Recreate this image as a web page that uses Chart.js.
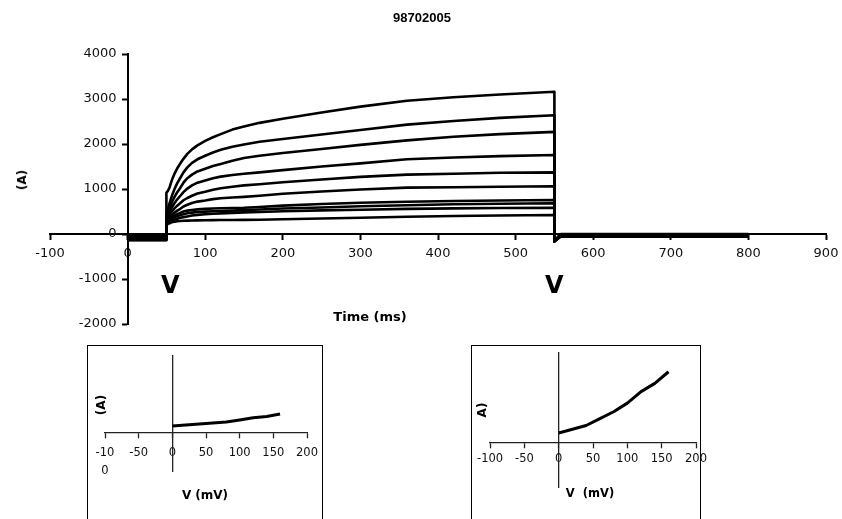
<!DOCTYPE html>
<html>
<head>
<meta charset="utf-8">
<script src="https://cdn.jsdelivr.net/npm/chart.js@4.4.1/dist/chart.umd.min.js"></script>
<style>
  html, body { margin: 0; padding: 0; background: #fff; }
  body { width: 842px; height: 519px; position: relative; overflow: hidden; font-family: "Liberation Sans", Arial, sans-serif; }
  canvas { position: absolute; }
  .box { position: absolute; border: 1px solid #000; border-bottom: none; background: #fff; }
  .txt { position: absolute; white-space: pre; color: #000; font-weight: bold; transform: translate(-50%, -50%); line-height: 1; }
  .rot { transform: translate(-50%, -50%) rotate(-90deg); }
</style>
</head>
<body>
<div class="box" style="left:87px; top:345px; width:234px; height:180px;"></div>
<div class="box" style="left:471px; top:345px; width:228px; height:180px;"></div>

<canvas id="main" width="842" height="519" style="left:0; top:0;"></canvas>
<canvas id="ivLeft" width="250" height="173" style="left:88px; top:346px;"></canvas>
<canvas id="ivRight" width="250" height="173" style="left:472px; top:346px;"></canvas>

<div class="txt" style="left:422px; top:17px; font-size:13px;">98702005</div>
<div class="txt rot" style="left:22px; top:180px; font-size:12px; font-family:'DejaVu Sans';">(A)</div>
<div class="txt" style="left:370px; top:316px; font-size:13px; font-family:'DejaVu Sans';">Time (ms)</div>
<div class="txt rot" style="left:101px; top:405px; font-size:12px; font-family:'DejaVu Sans';">(A)</div>
<div class="txt" style="left:205px; top:495px; font-size:12px; font-family:'DejaVu Sans';">V (mV)</div>
<div class="txt rot" style="left:482px; top:410px; font-size:12px; font-family:'DejaVu Sans';">A)</div>
<div class="txt" style="left:590px; top:494px; font-size:11.5px; font-family:'DejaVu Sans';">V  (mV)</div>

<script>
// ---- step protocol: holding, depolarising pulse, tail (times in ms, currents in pA) ----
const holdTimes = [0, 50];
const pulseTimes = [50, 52, 54, 56, 58, 61, 64, 68, 72, 77, 83, 90, 100, 110, 120, 135, 150, 170, 200, 250, 300, 360, 420, 480, 550];
const tailTimes = [558, 800];
const tailDipLevel = -160;

const sweep1  = [920, 960, 1030, 1140, 1240, 1360, 1460, 1570, 1670, 1780, 1880, 1970, 2070, 2150, 2220, 2320, 2390, 2470, 2560, 2700, 2830, 2960, 3040, 3100, 3160];
const sweep2  = [450, 560, 680, 790, 890, 1020, 1130, 1250, 1370, 1480, 1580, 1660, 1740, 1810, 1870, 1940, 1990, 2050, 2110, 2210, 2310, 2430, 2510, 2580, 2640];
const sweep3  = [400, 480, 570, 660, 740, 840, 930, 1030, 1140, 1240, 1320, 1390, 1450, 1510, 1555, 1630, 1690, 1740, 1800, 1890, 1980, 2080, 2160, 2220, 2270];
const sweep4  = [360, 420, 490, 560, 620, 700, 770, 850, 930, 1010, 1080, 1140, 1190, 1240, 1275, 1310, 1340, 1370, 1420, 1500, 1570, 1660, 1700, 1730, 1755];
const sweep5  = [330, 380, 430, 480, 520, 580, 630, 690, 750, 800, 850, 900, 940, 985, 1015, 1050, 1080, 1105, 1150, 1210, 1270, 1320, 1340, 1360, 1370];
const sweep6  = [300, 340, 380, 410, 440, 480, 520, 560, 610, 650, 690, 720, 745, 775, 795, 810, 825, 850, 895, 945, 990, 1030, 1040, 1050, 1060];
const sweep7  = [280, 310, 340, 365, 385, 415, 440, 470, 500, 520, 535, 548, 558, 566, 572, 578, 582, 600, 630, 665, 695, 718, 735, 745, 755];
const sweep8  = [260, 290, 310, 330, 350, 375, 395, 420, 440, 460, 475, 488, 498, 505, 512, 520, 530, 545, 565, 590, 615, 640, 660, 672, 682];
const sweep9  = [240, 265, 280, 295, 310, 325, 340, 360, 375, 390, 410, 425, 440, 450, 458, 470, 480, 490, 505, 525, 540, 558, 570, 578, 585];
const sweep10 = [200, 225, 240, 255, 265, 275, 283, 290, 295, 298, 300, 303, 306, 308, 310, 312, 314, 318, 328, 345, 362, 385, 400, 412, 422];

const holdLevels = [-140, -130, -120, -110, -100, -70, -60, -50, -40, -30];
const tailLevels = [-60, -55, -50, -40, -30, -25, -20, -10, -5, 0];

// stimulus markers under the time axis
const stimMarkTimes = [55, 550];
const stimMarkLevel = -1180;

// main axes
const timeTicks = { min: -100, max: 900, step: 100 };
const currentTicks = { min: -2000, max: 4000, step: 1000 };

// I-V relations (mV, pA)
const ivEarlyVolt = [0, 20, 40, 60, 80, 100, 120, 140, 160];
const ivEarlyCurr = [350, 400, 450, 510, 555, 665, 780, 840, 970];
const ivSteadyVolt = [0, 20, 40, 60, 80, 100, 120, 140, 160];
const ivSteadyCurr = [420, 585, 755, 1060, 1370, 1755, 2270, 2640, 3160];
const ivVoltTicks = { min: -100, max: 200, step: 50 };

const sweeps = [sweep1, sweep2, sweep3, sweep4, sweep5, sweep6, sweep7, sweep8, sweep9, sweep10];

function sweepPoints(values, i) {
  const pts = [];
  holdTimes.forEach(t => pts.push({ x: t, y: holdLevels[i] }));
  pulseTimes.forEach((t, k) => pts.push({ x: t, y: values[k] }));
  pts.push({ x: pulseTimes[pulseTimes.length - 1], y: tailDipLevel });
  tailTimes.forEach(t => pts.push({ x: t, y: tailLevels[i] }));
  return pts;
}

const INK = '#000';

// y tick labels drawn beside the crossing y axis, plus the stimulus markers
const axisDecor = {
  id: 'axisDecor',
  afterDraw(chart) {
    const { ctx, scales: { x, y } } = chart;
    ctx.save();
    ctx.fillStyle = '#111';
    ctx.font = '13px "DejaVu Sans"';
    ctx.textAlign = 'right';
    ctx.textBaseline = 'middle';
    const x0 = x.getPixelForValue(0);
    y.ticks.forEach(t => ctx.fillText(String(t.value), x0 - 11, y.getPixelForValue(t.value)));
    ctx.fillStyle = INK;
    ctx.font = 'bold 24px "DejaVu Sans"';
    ctx.textAlign = 'center';
    stimMarkTimes.forEach(t => ctx.fillText('V', x.getPixelForValue(t), y.getPixelForValue(stimMarkLevel)));
    ctx.restore();
  }
};

new Chart(document.getElementById('main'), {
  type: 'line',
  data: {
    datasets: sweeps.map((s, i) => ({
      data: sweepPoints(s, i),
      borderColor: INK,
      borderWidth: 2.6,
      borderJoinStyle: 'round',
      pointRadius: 0,
      tension: 0,
      fill: false
    }))
  },
  options: {
    responsive: false,
    animation: false,
    devicePixelRatio: 1,
    layout: { padding: { left: 50, right: 16, top: 54, bottom: 195 } },
    plugins: { legend: { display: false }, tooltip: { enabled: false } },
    scales: {
      x: {
        type: 'linear',
        min: timeTicks.min, max: timeTicks.max,
        position: { y: 0 },
        ticks: {
          stepSize: timeTicks.step, color: '#111',
          font: { family: 'DejaVu Sans', size: 13, lineHeight: 1.85 },
          padding: 3, maxRotation: 0, autoSkip: false
        },
        grid: { drawOnChartArea: false, tickLength: 5, tickWidth: 2, color: INK },
        border: { color: INK, width: 2 }
      },
      y: {
        type: 'linear',
        min: currentTicks.min, max: currentTicks.max,
        position: { x: 0 },
        ticks: { stepSize: currentTicks.step, display: false },
        grid: { drawOnChartArea: false, tickLength: 5, tickWidth: 2, color: INK },
        border: { color: INK, width: 2 }
      }
    }
  },
  plugins: [axisDecor]
});

function ivChart(id, volts, currs, padding, labelPad, labelLineHeight, wrapMin) {
  new Chart(document.getElementById(id), {
    type: 'line',
    data: {
      datasets: [{
        data: volts.map((v, k) => ({ x: v, y: currs[k] })),
        borderColor: INK,
        borderWidth: 3,
        borderJoinStyle: 'round',
        pointRadius: 0,
        tension: 0,
        fill: false
      }]
    },
    options: {
      responsive: false,
      animation: false,
      devicePixelRatio: 1,
      layout: { padding },
      plugins: { legend: { display: false }, tooltip: { enabled: false } },
      scales: {
        x: {
          type: 'linear',
          min: ivVoltTicks.min, max: ivVoltTicks.max,
          position: { y: 0 },
          ticks: {
            stepSize: ivVoltTicks.step, color: '#111',
            font: { family: 'DejaVu Sans', size: 11.5, lineHeight: labelLineHeight },
            padding: labelPad, maxRotation: 0, autoSkip: false,
            callback: v => (wrapMin && v === ivVoltTicks.min) ? ['-10', '0'] : String(v)
          },
          grid: { drawOnChartArea: false, tickLength: 5, tickWidth: 1.3, color: '#222' },
          border: { color: '#222', width: 1.3 }
        },
        y: {
          type: 'linear',
          min: currentTicks.min, max: currentTicks.max,
          position: { x: 0 },
          ticks: { display: false },
          grid: { drawOnChartArea: false, drawTicks: false, color: '#222' },
          border: { color: '#222', width: 1.3 }
        }
      }
    }
  });
}

ivChart('ivLeft', ivEarlyVolt, ivEarlyCurr, { left: 17, right: 31, top: 10, bottom: 48 }, 6, 1.6, true);
ivChart('ivRight', ivSteadyVolt, ivSteadyCurr, { left: 18, right: 26, top: 7, bottom: 32 }, 5, 1.2, false);
</script>
</body>
</html>
